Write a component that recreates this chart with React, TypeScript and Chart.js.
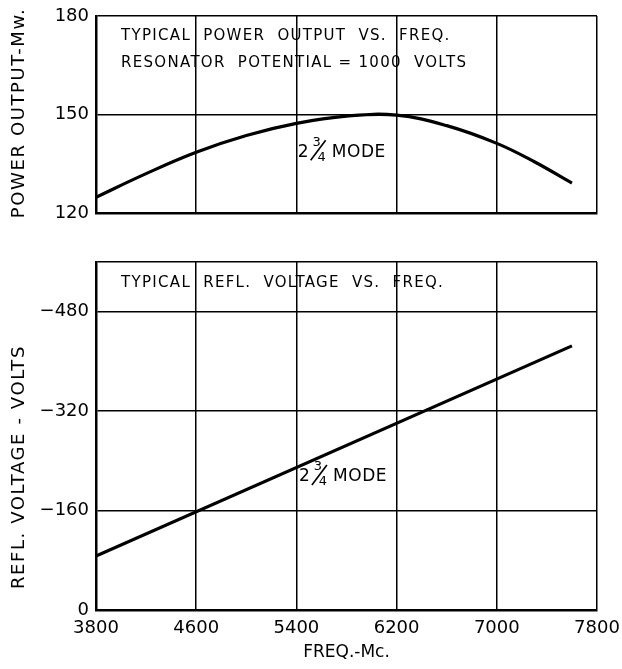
import React, { useEffect, useRef } from "react";
import { Chart, registerables } from "chart.js";

Chart.register(...registerables);

// ---- Data ----
const freqTicks = [3800, 4600, 5400, 6200, 7000, 7800];
const powerFreq = [3800, 4200, 4600, 5000, 5400, 5800, 6200, 6600, 7000, 7300, 7600];
const powerMw = [124.8, 132.0, 138.5, 143.6, 147.3, 149.5, 149.8, 146.6, 141.2, 135.6, 129.1];
const powerTicks = [120, 150, 180];
const reflFreq = [3800, 7600];
const reflVolts = [-87, -425];
const reflTicks = [-480, -320, -160, 0];

const topNotes = [
  { text: "TYPICAL  POWER  OUTPUT  VS.  FREQ.", x: 4000, y: 173.9 },
  { text: "RESONATOR  POTENTIAL = 1000  VOLTS", x: 4000, y: 165.8 },
  { mode: "MODE", whole: "2", num: "3", den: "4", x: 5410, y: 138.5 },
];
const bottomNotes = [
  { text: "TYPICAL  REFL.  VOLTAGE  VS.  FREQ.", x: 4000, y: -526 },
  { mode: "MODE", whole: "2", num: "3", den: "4", x: 5420, y: -214 },
];

const FONT = "'DejaVu Sans', sans-serif";

const notesPlugin = {
  id: "notes",
  afterDatasetsDraw(chart: any) {
    const cfg = chart.options.plugins.notes || {};
    const notes = cfg.items || [];
    const ctx = chart.ctx;
    ctx.save();
    ctx.fillStyle = "#000";
    ctx.strokeStyle = "#000";
    ctx.textBaseline = "middle";
    for (const n of notes) {
      const px = chart.scales.x.getPixelForValue(n.x);
      const py = chart.scales.y.getPixelForValue(n.y);
      if (n.mode) {
        (ctx as any).letterSpacing = "0.8px";
        ctx.textAlign = "left";
        ctx.font = `17px ${FONT}`;
        ctx.fillText(n.whole, px, py);
        ctx.font = `13px ${FONT}`;
        ctx.textAlign = "center";
        (ctx as any).letterSpacing = "0px";
        ctx.fillText(n.num, px + 19, py - 10);
        ctx.fillText(n.den, px + 24, py + 5);
        ctx.lineWidth = 1.6;
        ctx.beginPath();
        ctx.moveTo(px + 13, py + 8);
        ctx.lineTo(px + 28, py - 12);
        ctx.stroke();
        ctx.textAlign = "left";
        ctx.font = `17px ${FONT}`;
        (ctx as any).letterSpacing = "0.6px";
        ctx.fillText(n.mode, px + 34, py);
      } else {
        ctx.font = `15px ${FONT}`;
        (ctx as any).letterSpacing = "1.3px";
        ctx.textAlign = "left";
        ctx.fillText(n.text, px, py);
      }
    }
    // y axis title (rotated)
    if (cfg.yTitle) {
      const py = chart.scales.y.getPixelForValue(cfg.yTitleAt);
      ctx.translate(19, py);
      ctx.rotate(-Math.PI / 2);
      ctx.font = `18px ${FONT}`;
      (ctx as any).letterSpacing = "1.6px";
      ctx.textAlign = "center";
      ctx.fillText(cfg.yTitle, 0, 0);
    }
    ctx.restore();
  },
};

const fmt = (v: number) => (v < 0 ? "\u2212" + String(-v) : String(v));

function makeOptions(opts: {
  yMin: number;
  yMax: number;
  yTicks: number[];
  yTitle: string;
  yTitleAt: number;
  reverse: boolean;
  showX: boolean;
  padding: any;
  xHeight: number;
  notes: any[];
}) {
  return {
    responsive: false,
    animation: false,
    devicePixelRatio: 1,
    layout: { padding: opts.padding },
    plugins: {
      legend: { display: false },
      tooltip: { enabled: false },
      notes: { items: opts.notes, yTitle: opts.yTitle, yTitleAt: opts.yTitleAt },
    },
    scales: {
      x: {
        type: "linear",
        min: 3800,
        max: 7800,
        afterBuildTicks: (s: any) => {
          s.ticks = freqTicks.map((v) => ({ value: v }));
        },
        afterFit: (s: any) => {
          s.height = opts.xHeight;
          s.paddingLeft = 0;
          s.paddingRight = 0;
        },
        ticks: {
          display: opts.showX,
          color: "#000",
          font: { family: FONT, size: 18 },
          padding: 8,
          maxRotation: 0,
          callback: (v: any) => String(v),
        },
        grid: { color: "#000", lineWidth: 1.5, drawTicks: false },
        border: { color: "#000", width: 2.5 },
        title: {
          display: opts.showX,
          text: "FREQ.-Mc.",
          color: "#000",
          font: { family: FONT, size: 17 },
          padding: { top: 0, bottom: 6 },
        },
      },
      y: {
        type: "linear",
        min: opts.yMin,
        max: opts.yMax,
        reverse: opts.reverse,
        afterBuildTicks: (s: any) => {
          const t = opts.yTicks.slice();
          const edge = opts.reverse ? opts.yMin : opts.yMax;
          if (!t.includes(edge)) t.push(edge);
          s.ticks = t.map((v) => ({ value: v }));
        },
        afterFit: (s: any) => {
          s.width = 96;
          s.paddingTop = 0;
          s.paddingBottom = 0;
        },
        ticks: {
          color: "#000",
          font: { family: FONT, size: 18 },
          padding: 7,
          callback: (v: any) => (opts.yTicks.includes(v) ? fmt(v) : ""),
        },
        grid: { color: "#000", lineWidth: 1.5, drawTicks: false },
        border: { color: "#000", width: 2.5 },
        title: { display: false },
      },
    },
  };
}

export default function App() {
  const topRef = useRef<HTMLCanvasElement>(null);
  const botRef = useRef<HTMLCanvasElement>(null);

  useEffect(() => {
    const top = new Chart(topRef.current!, {
      type: "line",
      data: {
        datasets: [
          {
            data: powerFreq.map((f, i) => ({ x: f, y: powerMw[i] })),
            borderColor: "#000",
            borderWidth: 3.2,
            pointRadius: 0,
            tension: 0.4,
          },
        ],
      },
      options: makeOptions({
        yMin: 120,
        yMax: 180,
        yTicks: powerTicks,
        yTitle: "POWER OUTPUT-Mw.",
        yTitleAt: 150.5,
        reverse: false,
        showX: false,
        padding: { left: 0, right: 25, top: 16, bottom: 22 },
        xHeight: 0,
        notes: topNotes,
      }) as any,
      plugins: [notesPlugin],
    });
    const bot = new Chart(botRef.current!, {
      type: "line",
      data: {
        datasets: [
          {
            data: reflFreq.map((f, i) => ({ x: f, y: reflVolts[i] })),
            borderColor: "#000",
            borderWidth: 3.2,
            pointRadius: 0,
          },
        ],
      },
      options: makeOptions({
        yMin: -560,
        yMax: 0,
        yTicks: reflTicks,
        yTitle: "REFL. VOLTAGE - VOLTS",
        yTitleAt: -230,
        reverse: true,
        showX: true,
        padding: { left: 0, right: 25, top: 27, bottom: 0 },
        xHeight: 59,
        notes: bottomNotes,
      }) as any,
      plugins: [notesPlugin],
    });
    return () => {
      top.destroy();
      bot.destroy();
    };
  }, []);

  return (
    <div style={{ position: "absolute", left: 0, top: 0, width: 622, height: 669, background: "#fff" }}>
      <canvas ref={topRef} width={622} height={235} style={{ position: "absolute", left: 0, top: 0 }} />
      <canvas ref={botRef} width={622} height={434} style={{ position: "absolute", left: 0, top: 235 }} />
    </div>
  );
}
